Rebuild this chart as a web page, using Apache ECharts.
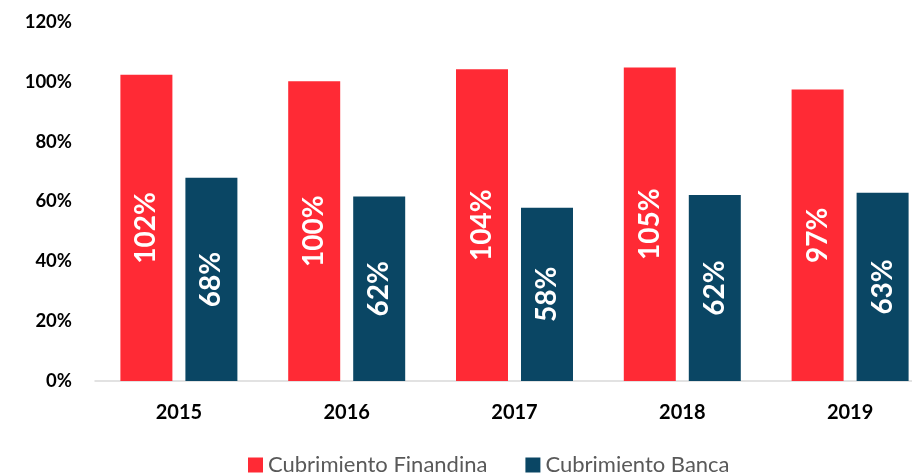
<!DOCTYPE html>
<html>
<head>
<meta charset="utf-8">
<script src="https://cdn.jsdelivr.net/npm/echarts@6/dist/echarts.min.js"></script>
<style>
  html, body { margin: 0; padding: 0; background: #fff; }
  #chart { width: 912px; height: 476px; }
</style>
</head>
<body>
<div id="chart"></div>
<script>
const years = ['2015', '2016', '2017', '2018', '2019']
const finandina = [102.4, 100.2, 104.2, 104.8, 97.4]
const banca = [67.9, 61.7, 57.9, 62.2, 62.9]
const yTicks = [0, 20, 40, 60, 80, 100, 120]

const colors = {
  finandina: '#FF2A35',
  banca: '#0A4664'
}

const chart = echarts.init(document.getElementById('chart'))

const barLabel = {
  show: true,
  position: 'inside',
  rotate: 90,
  color: '#fff',
  fontFamily: 'Lato',
  fontWeight: 'bold',
  fontSize: 28,
  formatter: p => Math.round(p.value) + '%'
}

chart.setOption({
  animation: false,
  grid: {
    left: 95,
    width: 839,
    top: 22,
    bottom: 95,
    outerBoundsMode: 'none'
  },
  legend: {
    left: 243,
    top: 449,
    itemWidth: 15,
    itemHeight: 15,
    itemGap: 38,
    icon: 'rect',
    textStyle: { color: '#595959', fontFamily: 'Lato', fontSize: 22 },
    data: ['Cubrimiento Finandina', 'Cubrimiento Banca']
  },
  xAxis: {
    type: 'category',
    data: years,
    axisTick: { show: false },
    axisLine: { lineStyle: { color: '#D9D9D9', width: 1.5 } },
    axisLabel: {
      color: '#000',
      fontFamily: 'Lato',
      fontWeight: 'bold',
      fontSize: 20,
      margin: 22
    }
  },
  yAxis: {
    type: 'value',
    min: yTicks[0],
    max: yTicks[yTicks.length - 1],
    interval: 20,
    splitLine: { show: false },
    axisLine: { show: false },
    axisTick: { show: false },
    axisLabel: {
      color: '#000',
      fontFamily: 'Lato',
      fontWeight: 'bold',
      fontSize: 18.5,
      margin: 23,
      formatter: v => v + '%'
    }
  },
  series: [
    {
      name: 'Cubrimiento Finandina',
      type: 'bar',
      data: finandina,
      barWidth: 52,
      barGap: '25%',
      itemStyle: { color: colors.finandina },
      label: barLabel
    },
    {
      name: 'Cubrimiento Banca',
      type: 'bar',
      data: banca,
      barWidth: 52,
      itemStyle: { color: colors.banca },
      label: barLabel
    }
  ]
})
</script>
</body>
</html>
